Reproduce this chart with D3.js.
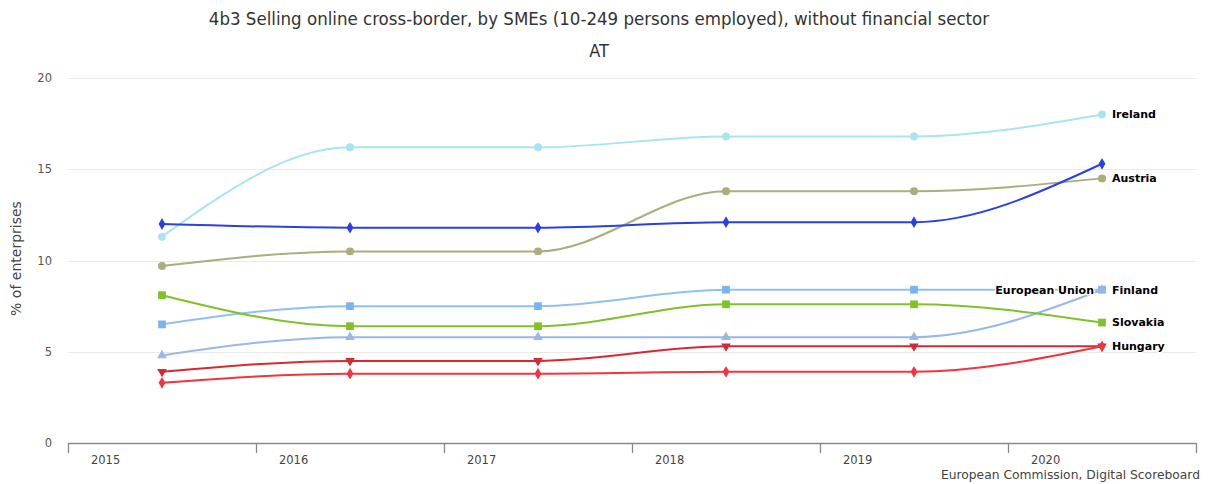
<!DOCTYPE html>
<html>
<head>
<meta charset="utf-8">
<script src="https://cdn.jsdelivr.net/npm/d3@7"></script>
<style>
  html, body { margin: 0; padding: 0; background: #fff; }
  svg { display: block; font-family: "DejaVu Sans", sans-serif; }
</style>
</head>
<body>
<svg id="chart" width="1208" height="484"></svg>
<script>
// Years on the category axis
const years = ["2015", "2016", "2017", "2018", "2019", "2020"];
const yTicks = [0, 5, 10, 15, 20];

// Share of enterprises (%) per year, one array per series
const ireland       = [11.3, 16.2, 16.2, 16.8, 16.8, 18.0];
const austria       = [9.7, 10.5, 10.5, 13.8, 13.8, 14.5];
const europeanUnion = [6.5, 7.5, 7.5, 8.4, 8.4, 8.4];
const finland       = [4.8, 5.8, 5.8, 5.8, 5.8, 8.4];
const slovakia      = [8.1, 6.4, 6.4, 7.6, 7.6, 6.6];
const hungary       = [3.9, 4.5, 4.5, 5.3, 5.3, 5.3];
const seriesRed     = [3.3, 3.8, 3.8, 3.9, 3.9, 5.3];
const seriesBlue    = [12.0, 11.8, 11.8, 12.1, 12.1, 15.3];

const seriesNames = ["Ireland", "Austria", "European Union", "Finland", "Slovakia", "Hungary", "Series 7", "Series 8"];
const seriesValues = [ireland, austria, europeanUnion, finland, slovakia, hungary, seriesRed, seriesBlue];

// Presentation: colour, marker and end-label placement per series
const styles = {
  "Ireland":        { color: "#a9e5ef", marker: "circle",   label: "right" },
  "Austria":        { color: "#abad7c", marker: "circle",   label: "right" },
  "European Union": { color: "#90c0ef", marker: "square",   label: "left", markerColor: "#78b4f2" },
  "Finland":        { color: "#98b8e6", marker: "triangle", label: "right" },
  "Slovakia":       { color: "#80c12a", marker: "square",   label: "right" },
  "Hungary":        { color: "#d42a33", marker: "triangleDown", label: "right" },
  "Series 7":       { color: "#f2343f", marker: "diamond",  label: null },
  "Series 8":       { color: "#2b40e2", marker: "diamond",  label: null }
};

const series = seriesNames.map((name, i) => ({ name, values: seriesValues[i], ...styles[name] }));

const svg = d3.select("#chart");
const plot = { left: 68, right: 1196, top: 78, bottom: 443 };

const x = d3.scaleBand().domain(years).range([plot.left, plot.right]).padding(0);
const y = d3.scaleLinear().domain([0, 20]).range([plot.bottom, plot.top]);
const cx = d => x(d) + x.bandwidth() / 2;

// Titles
svg.append("text").attr("x", 599).attr("y", 25).attr("text-anchor", "middle")
  .attr("font-family", "DejaVu Sans Condensed").attr("font-size", 18.5).attr("fill", "#333")
  .text("4b3 Selling online cross-border, by SMEs (10-249 persons employed), without financial sector");
svg.append("text").attr("x", 599).attr("y", 57).attr("text-anchor", "middle")
  .attr("font-family", "DejaVu Sans Condensed").attr("font-size", 18).attr("fill", "#333").text("AT");

// Horizontal gridlines
svg.append("g").selectAll("line").data(yTicks.filter(t => t > 0)).join("line")
  .attr("x1", plot.left).attr("x2", plot.right)
  .attr("y1", d => Math.round(y(d)) + 0.5).attr("y2", d => Math.round(y(d)) + 0.5)
  .attr("stroke", "#e9e9e9").attr("stroke-width", 1);

// Y axis tick labels
const yAxis = d3.axisLeft(y).tickValues(yTicks).tickSize(0).tickPadding(0);
const gy = svg.append("g").attr("transform", `translate(${plot.left - 16},0)`).call(yAxis);
gy.select(".domain").remove();
gy.selectAll("text").attr("font-size", 11.5).attr("fill", "#555").attr("font-family", "DejaVu Sans");

svg.append("text")
  .attr("transform", `translate(21,${(plot.top + plot.bottom) / 2 - 2}) rotate(-90)`)
  .attr("text-anchor", "middle").attr("font-size", 14).attr("fill", "#444")
  .text("% of enterprises");

// X axis: line, band-boundary ticks and year labels
const gx = svg.append("g");
gx.append("line").attr("x1", plot.left).attr("x2", plot.right)
  .attr("y1", plot.bottom + 0.5).attr("y2", plot.bottom + 0.5)
  .attr("stroke", "#888").attr("stroke-width", 1.6);
const boundaries = years.map(d => x(d)).concat([plot.right]);
gx.selectAll("line.tick").data(boundaries).join("line").attr("class", "tick")
  .attr("x1", d => Math.round(d) + 0.5).attr("x2", d => Math.round(d) + 0.5)
  .attr("y1", plot.bottom).attr("y2", plot.bottom + 10)
  .attr("stroke", "#888").attr("stroke-width", 1.3);
gx.selectAll("text").data(years).join("text")
  .attr("x", d => x(d) + x.bandwidth() * 0.2).attr("y", plot.bottom + 21)
  .attr("text-anchor", "middle").attr("font-size", 11.5).attr("fill", "#444")
  .text(d => d);

// Credit line
svg.append("text").attr("x", 1200).attr("y", 479).attr("text-anchor", "end")
  .attr("font-size", 12.3).attr("fill", "#444").text("European Commission, Digital Scoreboard");

// Series lines
const line = d3.line().x((v, i) => cx(years[i])).y(v => y(v)).curve(d3.curveMonotoneX);

const symbols = {
  circle: d3.symbol(d3.symbolCircle, 50),
  square: d3.symbol(d3.symbolSquare, 60),
  diamond: d3.symbol(d3.symbolDiamond, 40),
  triangle: d3.symbol(d3.symbolTriangle, 40),
  triangleDown: d3.symbol(d3.symbolTriangle, 40)
};

const gs = svg.append("g").selectAll("g").data(series).join("g");
gs.append("path").attr("d", d => line(d.values))
  .attr("fill", "none").attr("stroke", d => d.color).attr("stroke-width", 2);
gs.each(function(s) {
  d3.select(this).selectAll("path.m").data(s.values).join("path").attr("class", "m")
    .attr("d", symbols[s.marker]())
    .attr("transform", (v, i) => `translate(${cx(years[i])},${y(v)})` + (s.marker === "triangleDown" ? " rotate(180)" : ""))
    .attr("fill", s.markerColor || s.color);
});

// End labels
const last = years.length - 1;
svg.append("g").selectAll("text").data(series.filter(s => s.label)).join("text")
  .attr("x", s => cx(years[last]) + (s.label === "right" ? 10 : -8))
  .attr("y", s => y(s.values[last]))
  .attr("dy", "0.35em")
  .attr("text-anchor", s => s.label === "right" ? "start" : "end")
  .attr("font-size", 11).attr("font-weight", "bold").attr("fill", "#000")
  .attr("stroke", "#fff").attr("stroke-width", 2.5).attr("paint-order", "stroke")
  .attr("stroke-linejoin", "round")
  .text(s => s.name);
</script>
</body>
</html>
